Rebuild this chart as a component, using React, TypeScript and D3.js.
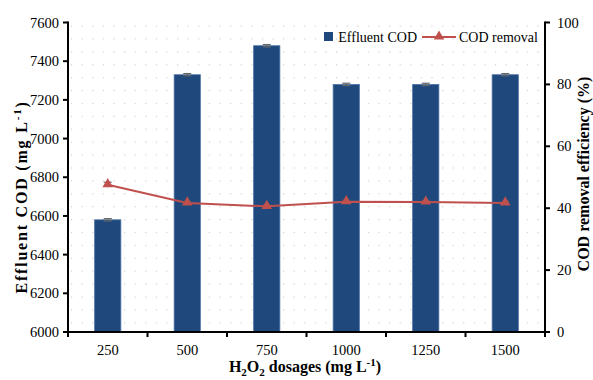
import React from "react";
import * as d3 from "d3";

const categories = ["250", "500", "750", "1000", "1250", "1500"];
const effluentCOD = [6580, 7330, 7480, 7280, 7280, 7330];
const effluentErr = [6, 6, 6, 6, 6, 6];
const codRemoval = [47.6, 41.7, 40.6, 42.1, 42.0, 41.7];
const removalErr = [0.8, 0.5, 0.5, 0.5, 0.5, 0.5];
const leftTicks = [6000, 6200, 6400, 6600, 6800, 7000, 7200, 7400, 7600];
const rightTicks = [0, 20, 40, 60, 80, 100];

const W = 593, H = 380;
const L = 68, R = 545, T = 22.5, B = 332;
const FONT = "'Liberation Serif', 'Times New Roman', Times, serif";
const BAR = "#1F497D";
const RED = "#C0504D";

export default function App() {
  const x = d3.scaleBand<string>().domain(categories).range([L, R]).paddingInner(0).paddingOuter(0);
  const yL = d3.scaleLinear().domain([6000, 7600]).range([B, T]);
  const yR = d3.scaleLinear().domain([0, 100]).range([B, T]);
  const bw = x.bandwidth() * 0.33;
  const cx = (c: string) => (x(c) as number) + x.bandwidth() / 2;
  const line = d3.line<number>().x((_, i) => cx(categories[i])).y((d) => yR(d));
  const tri = d3.symbol().type(d3.symbolTriangle).size(48)();
  const boundaries = d3.range(categories.length + 1).map((i) => L + i * x.bandwidth());

  return (
    <svg width={W} height={H} style={{ position: "absolute", left: 0, top: 0, background: "#fff" }}>
      <defs>
        <pattern id="dots" x={L + 3} y={T + 3} width={10.6} height={12.9} patternUnits="userSpaceOnUse">
          <rect x={0} y={0} width={1.2} height={1.2} fill="#cfcfcf" />
        </pattern>
      </defs>
      <rect x={L} y={T} width={R - L} height={B - T} fill="url(#dots)" />

      {/* bars */}
      {categories.map((c, i) => (
        <g key={c}>
          <rect x={cx(c) - bw / 2} y={yL(effluentCOD[i])} width={bw} height={B - yL(effluentCOD[i])}
            fill={BAR} stroke="#4e74a8" strokeWidth={0.8} />
          <line x1={cx(c)} x2={cx(c)} y1={yL(effluentCOD[i] + effluentErr[i])} y2={yL(effluentCOD[i] - effluentErr[i])} stroke="#666" strokeWidth={1} />
          <line x1={cx(c) - 4} x2={cx(c) + 4} y1={yL(effluentCOD[i] + effluentErr[i])} y2={yL(effluentCOD[i] + effluentErr[i])} stroke="#666" strokeWidth={1.2} />
          <line x1={cx(c) - 4} x2={cx(c) + 4} y1={yL(effluentCOD[i] - effluentErr[i])} y2={yL(effluentCOD[i] - effluentErr[i])} stroke="#666" strokeWidth={1.2} />
        </g>
      ))}

      {/* line */}
      <path d={line(codRemoval) || ""} fill="none" stroke={RED} strokeWidth={2} />
      {categories.map((c, i) => (
        <g key={"p" + c}>
          <line x1={cx(c) - 4} x2={cx(c) + 4} y1={yR(codRemoval[i] + removalErr[i])} y2={yR(codRemoval[i] + removalErr[i])} stroke="#555" strokeWidth={1} />
          <line x1={cx(c)} x2={cx(c)} y1={yR(codRemoval[i] + removalErr[i])} y2={yR(codRemoval[i] - removalErr[i])} stroke="#555" strokeWidth={1} />
          <path d={tri || ""} transform={`translate(${cx(c)},${yR(codRemoval[i]) - 0.5})`} fill={RED} />
        </g>
      ))}

      {/* axes */}
      <g stroke="#000" strokeWidth={2}>
        <line x1={L} x2={L} y1={T - 1} y2={B + 1} />
        <line x1={R} x2={R} y1={T - 1} y2={B + 1} />
        <line x1={L - 1} x2={R + 1} y1={B} y2={B} />
        {leftTicks.map((t) => <line key={"lt" + t} x1={L - 5} x2={L} y1={yL(t)} y2={yL(t)} />)}
        {rightTicks.map((t) => <line key={"rt" + t} x1={R} x2={R + 5} y1={yR(t)} y2={yR(t)} />)}
        {boundaries.map((b) => <line key={"bt" + b} x1={b} x2={b} y1={B} y2={B + 5} />)}
      </g>

      <g fontFamily={FONT} fontSize={14.5} fill="#000">
        {leftTicks.map((t) => (
          <text key={"ll" + t} x={L - 9} y={yL(t)} dy="0.35em" textAnchor="end">{t}</text>
        ))}
        {rightTicks.map((t) => (
          <text key={"rl" + t} x={R + 12} y={yR(t)} dy="0.35em" textAnchor="start">{t}</text>
        ))}
        {categories.map((c) => (
          <text key={"xl" + c} x={cx(c)} y={355} textAnchor="middle">{c}</text>
        ))}
      </g>

      {/* axis titles */}
      <text fontFamily={FONT} fontSize={16} fontWeight="bold" textAnchor="middle" letterSpacing={1.8}
        transform={`translate(27,197) rotate(-90)`}>
        Effluent COD (mg L<tspan dy="-6" fontSize={11}>-1</tspan><tspan dy="6">)</tspan>
      </text>
      <text fontFamily={FONT} fontSize={16} fontWeight="bold" textAnchor="middle"
        transform={`translate(589,174) rotate(-90)`}>
        COD removal efficiency (%)
      </text>
      <text fontFamily={FONT} fontSize={16} fontWeight="bold" textAnchor="middle" x={305} y={372}>
        H<tspan dy="4" fontSize={11}>2</tspan><tspan dy="-4">O</tspan><tspan dy="4" fontSize={11}>2</tspan><tspan dy="-4">  dosages (mg L</tspan><tspan dy="-6" fontSize={11}>-1</tspan><tspan dy="6">)</tspan>
      </text>

      {/* legend */}
      <g fontFamily={FONT} fontSize={14}>
        <rect x={324} y={32} width={9} height={9} fill={BAR} />
        <text x={417} y={37} dy="0.35em" textAnchor="end">Effluent COD</text>
        <line x1={422} x2={456} y1={37} y2={37} stroke={RED} strokeWidth={2} />
        <path d={tri || ""} transform="translate(439,36.5)" fill={RED} />
        <text x={459} y={37} dy="0.35em">COD removal</text>
      </g>
    </svg>
  );
}
